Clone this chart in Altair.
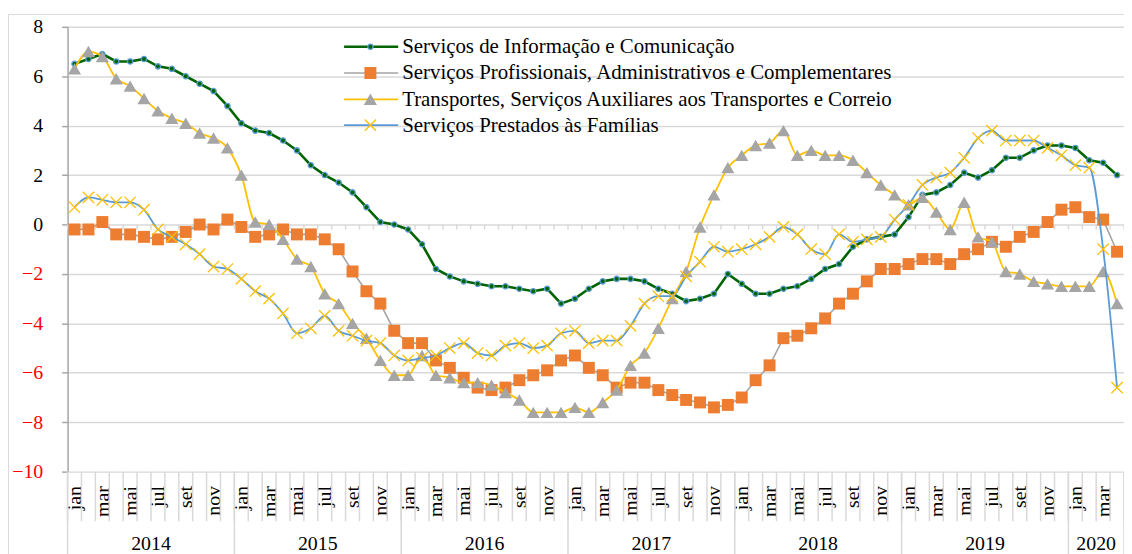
import altair as alt
import pandas as pd

FONT = "Liberation Serif"

months_pt = ['jan', 'fev', 'mar', 'abr', 'mai', 'jun', 'jul', 'ago', 'set', 'out', 'nov', 'dez']
years = [2014, 2015, 2016, 2017, 2018, 2019, 2020]

series_names = [
    "Serviços de Informação e Comunicação",
    "Serviços Profissionais, Administrativos e Complementares",
    "Transportes, Serviços Auxiliares aos Transportes e Correio",
    "Serviços Prestados às Famílias",
]

informacao = [
    6.5, 6.7, 6.9, 6.6, 6.6, 6.7, 6.4, 6.3, 6.0, 5.7, 5.4, 4.8,
    4.1, 3.8, 3.7, 3.4, 3.0, 2.4, 2.0, 1.7, 1.3, 0.7, 0.1, 0.0,
    -0.2, -0.8, -1.8, -2.1, -2.3, -2.4, -2.5, -2.5, -2.6, -2.7, -2.6, -3.2,
    -3.0, -2.6, -2.3, -2.2, -2.2, -2.3, -2.6, -2.8, -3.1, -3.0, -2.8, -2.0,
    -2.4, -2.8, -2.8, -2.6, -2.5, -2.2, -1.8, -1.6, -0.9, -0.6, -0.5, -0.4,
    0.3, 1.2, 1.3, 1.6, 2.1, 1.9, 2.2, 2.7, 2.7, 3.0, 3.2, 3.2,
    3.1, 2.6, 2.5, 2.0,
]

profissionais = [
    -0.2, -0.2, 0.1, -0.4, -0.4, -0.5, -0.6, -0.5, -0.3, 0.0, -0.2, 0.2,
    -0.1, -0.5, -0.4, -0.2, -0.4, -0.4, -0.6, -1.0, -1.9, -2.7, -3.2, -4.3,
    -4.8, -4.8, -5.5, -5.8, -6.2, -6.6, -6.7, -6.6, -6.3, -6.1, -5.9, -5.5,
    -5.3, -5.8, -6.1, -6.6, -6.4, -6.4, -6.7, -6.9, -7.1, -7.2, -7.4, -7.3,
    -7.0, -6.3, -5.7, -4.6, -4.5, -4.2, -3.8, -3.2, -2.8, -2.3, -1.8, -1.8,
    -1.6, -1.4, -1.4, -1.6, -1.2, -1.0, -0.7, -0.9, -0.5, -0.3, 0.1, 0.6,
    0.7, 0.3, 0.2, -1.1,
]

transportes = [
    6.3, 7.0, 6.8, 5.9, 5.6, 5.1, 4.6, 4.3, 4.1, 3.7, 3.5, 3.1,
    2.0, 0.1, 0.0, -0.6, -1.4, -1.7, -2.8, -3.2, -4.0, -4.6, -5.5, -6.1,
    -6.1, -5.3, -6.1, -6.2, -6.4, -6.4, -6.5, -6.8, -7.1, -7.6, -7.6, -7.6,
    -7.4, -7.6, -7.2, -6.7, -5.7, -5.2, -4.2, -3.0, -1.9, -0.1, 1.2, 2.3,
    2.8, 3.2, 3.3, 3.8, 2.8, 3.0, 2.8, 2.8, 2.6, 2.1, 1.6, 1.2,
    0.8, 1.1, 0.5, -0.2, 0.9, -0.5, -0.7, -1.9, -2.0, -2.3, -2.4, -2.5,
    -2.5, -2.5, -1.9, -3.2,
]

familias = [
    0.7, 1.1, 1.0, 0.9, 0.9, 0.6, -0.2, -0.5, -0.8, -1.2, -1.7, -1.8,
    -2.2, -2.7, -3.0, -3.6, -4.4, -4.2, -3.7, -4.3, -4.5, -4.7, -4.8, -5.3,
    -5.5, -5.4, -5.3, -5.0, -4.8, -5.2, -5.3, -4.9, -4.8, -5.0, -4.9, -4.4,
    -4.3, -4.8, -4.7, -4.7, -4.1, -3.2, -2.9, -2.9, -2.1, -1.5, -0.9, -1.1,
    -1.0, -0.8, -0.5, -0.1, -0.4, -1.0, -1.2, -0.4, -0.7, -0.6, -0.5, 0.2,
    0.8, 1.6, 1.9, 2.1, 2.7, 3.5, 3.8, 3.4, 3.4, 3.4, 3.1, 2.8,
    2.4, 2.3, -1.0, -6.6,
]

y_ticks = list(range(-10, 9, 2))

n = len(informacao)
idx = list(range(n))

W, H = 1064, 448

x_scale = alt.Scale(domain=[-0.5, n - 0.5], nice=False, zero=False)
y_scale = alt.Scale(domain=[-10, 8], nice=False, zero=False)

month_arr = "[" + ",".join("'%s'" % m for m in months_pt) + "]"
X_AX = alt.Axis(
    values=list(range(0, n, 2)),
    labelExpr=month_arr + "[datum.value % 12]",
    labelAngle=270, labelAlign="right", labelBaseline="middle",
    labelPadding=14, labelFlush=False, labelOverlap=False,
    ticks=False, domain=False, grid=False, title=None,
    labelFont=FONT, labelFontSize=20, labelColor="#000000",
)
Y_AX = alt.Axis(
    values=y_ticks, grid=True, gridColor="#d9d9d9", gridWidth=1.5,
    domainColor="#a6a6a6", domainWidth=1.5,
    tickColor="#a6a6a6", tickSize=6, tickWidth=1.5,
    labelPadding=19, labelFont=FONT, labelFontSize=20,
    labelColor={"expr": "datum.value < 0 ? '#ff0000' : '#000000'"},
    title=None,
)


def X(field):
    return alt.X(field, type="quantitative", scale=x_scale, axis=X_AX)


def Y(field):
    return alt.Y(field, type="quantitative", scale=y_scale, axis=Y_AX)


def sdf(vals):
    return pd.DataFrame({"i": idx, "v": vals})


one = alt.Data(values=[{}])

# outer chart border
border = alt.Chart(one).mark_rect(fillOpacity=0, stroke="#d9d9d9", strokeWidth=1).encode(
    x=alt.value(-59.5), x2=alt.value(1300), y=alt.value(-12.5), y2=alt.value(900)
)

# boundaries between months / years
bounds = pd.DataFrame({"b": [k - 0.5 for k in range(n + 1)]})
year_starts = [12 * k for k in range(len(years))]
year_bounds = pd.DataFrame({"b": [s - 0.5 for s in year_starts] + [n - 0.5]})
year_centers = pd.DataFrame({
    "c": [(s - 0.5 + min(s + 12, n) - 0.5) / 2 for s in year_starts],
    "y": [str(y) for y in years],
})

month_sep = alt.Chart(bounds).mark_rule(color="#d9d9d9", strokeWidth=1.5).encode(
    x=X("b"), y=alt.value(H), y2=alt.value(H + 50)
)
year_sep = alt.Chart(year_bounds).mark_rule(color="#d9d9d9", strokeWidth=1.5).encode(
    x=X("b"), y=alt.value(H), y2=alt.value(H + 200)
)
year_lbl = alt.Chart(year_centers).mark_text(
    font=FONT, fontSize=20, baseline="alphabetic", align="center", color="#000000"
).encode(x=X("c"), y=alt.value(H + 79), text="y:N")

zero_ticks = alt.Chart(bounds).mark_rule(color="#d9d9d9", strokeWidth=1.5).encode(
    x=X("b"), y=alt.datum(0), y2=alt.datum(-0.2)
)

# series
d1, d2, d3, d4 = sdf(informacao), sdf(profissionais), sdf(transportes), sdf(familias)

g_line = alt.Chart(d1).mark_line(color="#006400", strokeWidth=2.6).encode(x=X("i"), y=Y("v"))
g_pts = alt.Chart(d1).mark_point(shape="circle", filled=True, fill="#006400", stroke="#5b9bd5",
                                 strokeWidth=1.3, size=28, opacity=1).encode(x=X("i"), y=Y("v"))

p_line = alt.Chart(d2).mark_line(color="#a5a5a5", strokeWidth=1.6).encode(x=X("i"), y=Y("v"))
p_pts = alt.Chart(d2).mark_point(shape="square", filled=True, color="#ed7d31", size=145,
                                 opacity=1).encode(x=X("i"), y=Y("v"))

t_line = alt.Chart(d3).mark_line(color="#ffc000", strokeWidth=1.8, interpolate="monotone").encode(
    x=X("i"), y=Y("v"))
t_pts = alt.Chart(d3).mark_point(shape="triangle-up", filled=True, color="#a5a5a5", size=175,
                                 opacity=1).encode(x=X("i"), y=Y("v"))

XSHAPE = "M-1,-1L1,1M-1,1L1,-1"
f_line = alt.Chart(d4).mark_line(color="#5b9bd5", strokeWidth=1.8, interpolate="monotone").encode(
    x=X("i"), y=Y("v"))
f_pts = alt.Chart(d4).mark_point(shape=XSHAPE, filled=False, color="#ffc000", strokeWidth=1.3,
                                 size=130, opacity=1).encode(x=X("i"), y=Y("v"))

# legend (drawn by hand to combine line + marker)
leg_rows = [20, 46.5, 73, 99]
leg_x0, leg_x1, leg_mx, leg_tx = 278.5, 333, 305, 337
leg_styles = [
    (dict(color="#006400", strokeWidth=2.6),
     dict(shape="circle", filled=True, fill="#006400", stroke="#5b9bd5", strokeWidth=1.3, size=28, opacity=1)),
    (dict(color="#a5a5a5", strokeWidth=1.6),
     dict(shape="square", filled=True, color="#ed7d31", size=145, opacity=1)),
    (dict(color="#ffc000", strokeWidth=1.8),
     dict(shape="triangle-up", filled=True, color="#a5a5a5", size=175, opacity=1)),
    (dict(color="#5b9bd5", strokeWidth=1.8),
     dict(shape=XSHAPE, filled=False, color="#ffc000", strokeWidth=1.3, size=130, opacity=1)),
]
legend_layers = []
for name, ry, (ls, ps) in zip(series_names, leg_rows, leg_styles):
    legend_layers.append(alt.Chart(one).mark_rule(**ls).encode(
        x=alt.value(leg_x0), x2=alt.value(leg_x1), y=alt.value(ry)))
    legend_layers.append(alt.Chart(one).mark_point(**ps).encode(
        x=alt.value(leg_mx), y=alt.value(ry)))
    legend_layers.append(alt.Chart(one).mark_text(
        font=FONT, fontSize=21, align="left", baseline="middle", color="#000000").encode(
        x=alt.value(leg_tx), y=alt.value(ry + 0.5), text=alt.value(name)))

chart = alt.layer(
    border, month_sep, year_sep, year_lbl, zero_ticks,
    g_line, g_pts, p_line, p_pts, t_line, t_pts, f_line, f_pts,
    *legend_layers,
).properties(
    width=W, height=H,
    autosize=alt.AutoSizeParams(type="none"),
    padding={"left": 60, "top": 17, "right": 0, "bottom": 81},
    background="#ffffff",
).configure_view(strokeOpacity=0)

chart.save("out.html", embed_options={"renderer": "svg", "actions": False})
